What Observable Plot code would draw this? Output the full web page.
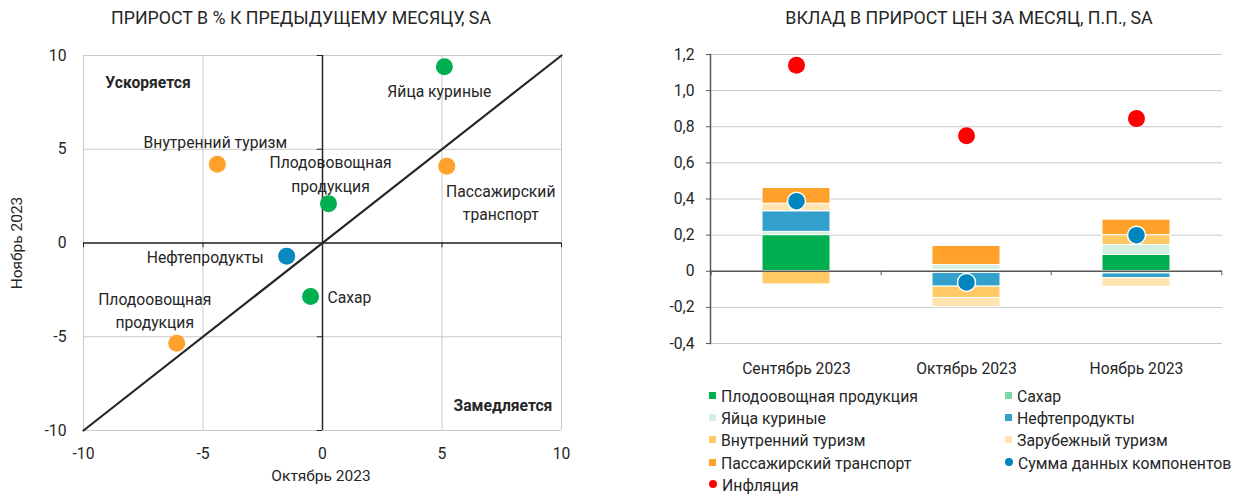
<!DOCTYPE html>
<html><head><meta charset="utf-8">
<script src="https://cdn.jsdelivr.net/npm/d3@7"></script>
<script src="https://cdn.jsdelivr.net/npm/@observablehq/plot@0.6"></script>
<style>
body{margin:0;background:#fff;font-family:Roboto,sans-serif;color:#262626;}
#wrap{position:relative;width:1245px;height:498px;overflow:hidden;}
.abs{position:absolute;white-space:nowrap;}
.title{font-size:17.8px;top:7px;transform:translateX(-50%);}
.axlab{font-size:15.5px;}
.leg{position:absolute;font-size:15.8px;line-height:18px;}
.sw{display:inline-block;width:7px;height:7px;margin-right:5px;vertical-align:3px;}
.sw.c{border-radius:50%;width:8px;height:8px;}
#left,#right{position:absolute;top:0;}
#left{left:0}#right{left:620px}
</style></head><body><div id="wrap">
<div class="abs title" style="left:301px">ПРИРОСТ В % К ПРЕДЫДУЩЕМУ МЕСЯЦУ, SA</div>
<div class="abs title" style="left:969px">ВКЛАД В ПРИРОСТ ЦЕН ЗА МЕСЯЦ, П.П., SA</div>
<div id="left"></div><div id="right"></div>
<div class="abs axlab" style="left:321px;top:467px;transform:translateX(-50%)">Октябрь 2023</div>
<div class="abs axlab" style="left:17px;top:243px;transform:translate(-50%,-50%) rotate(-90deg)">Ноябрь 2023</div>
<div id="legend"></div>
</div>
<script>
// ---- Left chart data ----
const scatterLabels = ["Яйца куриные","Внутренний туризм","Плодововощная\nпродукция","Пассажирский\nтранспорт","Нефтепродукты","Сахар","Плодоовощная\nпродукция"];
const octChange = [5.1, -4.4, 0.25, 5.2, -1.5, -0.5, -6.1];
const novChange = [9.4, 4.2, 2.1, 4.1, -0.7, -2.85, -5.35];
const scatterGroup = ["food","services","food","services","fuel","food","services"];
const groupNames = ["food","services","fuel"];
const groupColors = ["#00B050","#FFA12B","#0A88C0"];
const quadrantLabels = ["Ускоряется","Замедляется"];
const quadrantX = [-7.3, 7.55];
const quadrantY = [8.55, -8.7];
const axisTicks = [-10, -5, 0, 5, 10];
const diagonal = [-10, 10];

// ---- Right chart data ----
const months = ["Сентябрь 2023","Октябрь 2023","Ноябрь 2023"];
const seriesNames = ["Плодоовощная продукция","Сахар","Яйца куриные","Нефтепродукты","Внутренний туризм","Зарубежный туризм","Пассажирский транспорт"];
const seriesColors = ["#00B050","#7FD6A8","#D3F0E0","#33A0CC","#FFC966","#FFE3B0","#FFA12B"];
const fruitVeg   = [0.200, 0.007, 0.090];
const sugar      = [0.000, -0.009, -0.012];
const eggs       = [0.018, 0.028, 0.055];
const fuel       = [0.114, -0.076, -0.026];
const domTourism = [-0.073, -0.063, 0.055];
const forTourism = [0.042, -0.051, -0.049];
const transport  = [0.087, 0.105, 0.086];
const componentSum = [0.388, -0.062, 0.200];
const inflation    = [1.14, 0.75, 0.845];
const yTickValues = [-0.4, -0.2, 0, 0.2, 0.4, 0.6, 0.8, 1.0, 1.2];
const yTickLabels = ["-0,4","-0,2","0","0,2","0,4","0,6","0,8","1,0","1,2"];
const sumName = "Сумма данных компонентов";
const inflName = "Инфляция";

// label placement (layout only)
const labelPlacement = [
  {dx:-5, dy:23, a:"middle"},
  {dx:-2, dy:-24, a:"middle"},
  {dx:2, dy:-31, a:"middle"},
  {dx:54, dy:35, a:"middle"},
  {dx:-23, dy:-1, a:"end"},
  {dx:17, dy:-1, a:"start"},
  {dx:-22, dy:-34, a:"middle"}
];

const points = scatterLabels.map((l,i)=>({label:l, x:octChange[i], y:novChange[i], g:scatterGroup[i]}));
const diag = diagonal.map(v=>({x:v,y:v}));
const quads = quadrantLabels.map((l,i)=>({label:l,x:quadrantX[i],y:quadrantY[i]}));
const nz = axisTicks.filter(v=>v!==0);
const dark = "#262626";
const FS = 15.7;

const leftMarks = [
  Plot.gridX(axisTicks, {stroke:"#c9c9c9", strokeOpacity:1}),
  Plot.gridY(axisTicks, {stroke:"#c9c9c9", strokeOpacity:1}),
  Plot.ruleX([0], {stroke:dark, strokeWidth:1.5}),
  Plot.ruleY([0], {stroke:dark, strokeWidth:1.5}),
  Plot.ruleX(nz, {y1:0, y2:-0.25, stroke:dark, strokeWidth:1}),
  Plot.ruleY(nz, {x1:-0.22, x2:0, stroke:dark, strokeWidth:1}),
  Plot.line(diag, {x:"x", y:"y", stroke:dark, strokeWidth:2.2}),
  Plot.dot(points, {x:"x", y:"y", r:8.5, fill:"g"}),
  Plot.text(quads, {x:"x", y:"y", text:"label", fontWeight:"bold", fontSize:FS, fill:dark}),
  Plot.axisX(axisTicks, {tickSize:0, tickPadding:17, label:null, fontSize:FS, tickFormat:d=>String(d)}),
  Plot.axisY(axisTicks, {tickSize:0, tickPadding:17, label:null, fontSize:FS, tickFormat:d=>String(d)})
];
points.forEach((p,i)=>{
  const lp = labelPlacement[i];
  leftMarks.push(Plot.text([p], {x:"x", y:"y", text:"label", dx:lp.dx, dy:lp.dy, textAnchor:lp.a, lineAnchor:"middle", lineHeight:1.47, fontSize:FS, fill:dark}));
});

const left = Plot.plot({
  width:620, height:498,
  marginLeft:83, marginRight:59, marginTop:55, marginBottom:68,
  style:{fontFamily:"Roboto", fontSize:FS+"px", color:dark, background:"transparent", overflow:"visible"},
  x:{domain:[-10,10]},
  y:{domain:[-10,10]},
  color:{domain:groupNames, range:groupColors},
  marks:leftMarks
});
document.getElementById("left").append(left);

// ---- right ----
const seriesValues = [fruitVeg, sugar, eggs, fuel, domTourism, forTourism, transport];
const stackData = [];
months.forEach((m,mi)=>{
  seriesNames.forEach((s,si)=>stackData.push({month:m, series:s, value:seriesValues[si][mi]}));
});
const monthPts = months.map((m,i)=>({month:m, sum:componentSum[i], infl:inflation[i]}));
const axisCol = "#595959";

const right = Plot.plot({
  width:625, height:498,
  marginLeft:90, marginRight:23, marginTop:54, marginBottom:155,
  style:{fontFamily:"Roboto", fontSize:FS+"px", color:dark, background:"transparent", overflow:"visible"},
  x:{domain:months, paddingInner:0.6, paddingOuter:0.3},
  y:{domain:[-0.4,1.2]},
  color:{domain:seriesNames, range:seriesColors},
  marks:[
    Plot.gridY(yTickValues, {stroke:"#c9c9c9", strokeOpacity:1}),
    Plot.barY(stackData, {x:"month", y:"value", fill:"series", stroke:"white", strokeWidth:1}),
    Plot.ruleY([0], {stroke:axisCol, strokeWidth:1.5}),
    Plot.ruleX(months, {x:d=>d, dx:-85.33, y1:0, y2:-0.025, stroke:axisCol}),
    Plot.ruleX(months.slice(-1), {x:d=>d, dx:85.33, y1:0, y2:-0.025, stroke:axisCol}),
    Plot.frame({anchor:"left", stroke:axisCol, strokeWidth:1.5}),
    Plot.dot(monthPts, {x:"month", y:"sum", r:9, fill:"#0086BE", stroke:"white", strokeWidth:1.5}),
    Plot.dot(monthPts, {x:"month", y:"infl", r:8.5, fill:"#FF0000"}),
    Plot.axisY(yTickValues, {tickSize:4, tickPadding:12, stroke:axisCol, label:null, fontSize:FS, tickFormat:(d)=>yTickLabels[yTickValues.indexOf(d)]}),
    Plot.axisX(months, {tickSize:0, tickPadding:19, label:null, fontSize:FS})
  ]
});
document.getElementById("right").append(right);

// ---- legend ----
const legendItems = seriesNames.map((s,i)=>({name:s, color:seriesColors[i], circle:false}))
  .concat([{name:sumName, color:"#0086BE", circle:true},{name:inflName, color:"#FF0000", circle:true}]);
const rowsY = [388, 410, 432, 455, 477];
const lg = document.getElementById("legend");
legendItems.forEach((it,k)=>{
  const row = Math.floor(k/2), col = k%2;
  const d = document.createElement("div");
  d.className = "leg";
  d.style.left = (col===0?709:1005)+"px";
  d.style.top = rowsY[row]+"px";
  d.innerHTML = `<span class="sw${it.circle?' c':''}" style="background:${it.color}"></span>${it.name}`;
  lg.append(d);
});
</script>
</body></html>
